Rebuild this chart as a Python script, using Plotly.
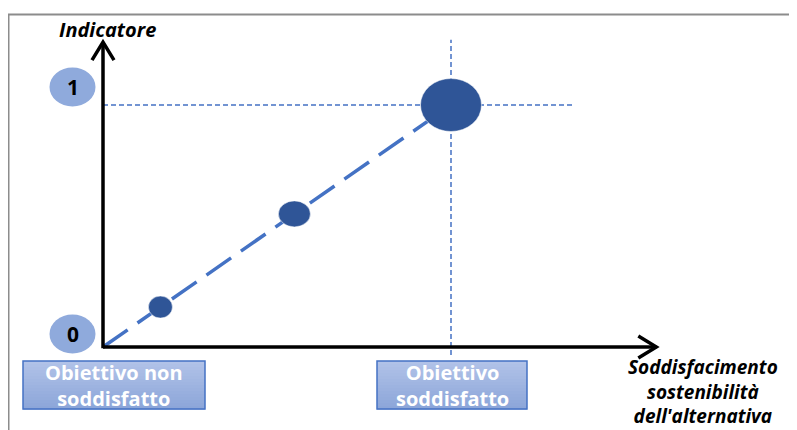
import plotly.graph_objects as go

# ---- data ----
point_x = [0.165, 0.55, 1.0]
point_y = [0.165, 0.55, 1.0]
line_x = [0.0, 1.0]
line_y = [0.0, 1.0]
tick_vals = [0, 1]
tick_text = ["0", "1"]
cat_x = [0, 1]
cat_labels = ["Obiettivo non<br>soddisfatto", "Obiettivo<br>soddisfatto"]
y_title = "Indicatore"
x_title_lines = ["Soddisfacimento", "sostenibilità", "dell'alternativa"]

# ---- style ----
W, H = 797, 430
OFF = 8                         # page body margin
X0PX, Y0PX = 103 - OFF, 347 - OFF   # pixel position of origin within figure
SX, SY = 348, 242              # pixels per unit
xr = [-X0PX / SX, (W - X0PX) / SX]
yr = [-(H - Y0PX) / SY, Y0PX / SY]
x_arrow_tip = 1.59
y_arrow_tip = 1.26
point_rx = [12, 16, 30.5]
point_ry = [11, 13, 26.5]
DARK = "#2F5597"
MID = "#4472C4"
LIGHT = "#8FAADC"
GRAD_TOP = (0xB2, 0xC3, 0xE8)
GRAD_BOT = (0x8B, 0xA5, 0xD9)
FONT = "Open Sans"

fig = go.Figure()

# dashed trend line
fig.add_trace(go.Scatter(x=line_x, y=line_y, mode="lines",
                         line=dict(color=MID, width=3.5, dash="30px,12px"),
                         hoverinfo="skip", showlegend=False))

shapes = []
# guide lines through the target point
shapes.append(dict(type="line", xref="x", yref="y", x0=0, x1=1.356, y0=point_y[-1], y1=point_y[-1],
                   line=dict(color=MID, width=1.5, dash="5px,3px"), layer="below"))
shapes.append(dict(type="line", xref="x", yref="y", x0=point_x[-1], x1=point_x[-1], y0=-0.033, y1=1.27,
                   line=dict(color=MID, width=1.5, dash="5px,3px"), layer="below"))

# points as ellipses
for px_, py_, rx, ry in zip(point_x, point_y, point_rx, point_ry):
    shapes.append(dict(type="circle", xref="x", yref="y", xsizemode="pixel", ysizemode="pixel",
                       xanchor=px_, yanchor=py_, x0=-rx, x1=rx, y0=-ry, y1=ry,
                       fillcolor=DARK, line=dict(color="white", width=0.5)))

# axes with open arrowheads
shapes.append(dict(type="line", xref="x", yref="y", x0=0, x1=x_arrow_tip, y0=0, y1=0,
                   line=dict(color="black", width=3.5)))
shapes.append(dict(type="line", xref="x", yref="y", x0=0, x1=0, y0=-0.005, y1=y_arrow_tip,
                   line=dict(color="black", width=3.5)))
shapes.append(dict(type="path", xref="x", yref="y", xsizemode="pixel", ysizemode="pixel",
                   xanchor=x_arrow_tip, yanchor=0, path="M -18 11 L 0 0 L -18 -11",
                   line=dict(color="black", width=3.5)))
shapes.append(dict(type="path", xref="x", yref="y", xsizemode="pixel", ysizemode="pixel",
                   xanchor=0, yanchor=y_arrow_tip, path="M -11 -18 L 0 0 L 11 -18",
                   line=dict(color="black", width=3.5)))

# tick-value ellipses
tick_dy = [13, 18]
for v, dy in zip(tick_vals, tick_dy):
    shapes.append(dict(type="circle", xref="x", yref="y", xsizemode="pixel", ysizemode="pixel",
                       xanchor=0, yanchor=v, x0=-53.5, x1=-7.5, y0=dy - 19.5, y1=dy + 19.5,
                       fillcolor=LIGHT, line=dict(width=0), layer="below"))

# category boxes with vertical gradient
box_dx = [[-80, 102], [-74, 76]]
BOX_TOP, BOX_BOT = -14, -62
NSTRIP = 16
for cx, (a, b) in zip(cat_x, box_dx):
    h = (BOX_TOP - BOX_BOT) / NSTRIP
    for k in range(NSTRIP):
        f = (k + 0.5) / NSTRIP
        col = "rgb(%d,%d,%d)" % tuple(round(t + (bb - t) * f) for t, bb in zip(GRAD_TOP, GRAD_BOT))
        shapes.append(dict(type="rect", xref="x", yref="y", xsizemode="pixel", ysizemode="pixel",
                           xanchor=cx, yanchor=0, x0=a, x1=b,
                           y0=BOX_TOP - k * h, y1=BOX_TOP - (k + 1) * h - 0.6,
                           fillcolor=col, line=dict(width=0), layer="below"))
    shapes.append(dict(type="rect", xref="x", yref="y", xsizemode="pixel", ysizemode="pixel",
                       xanchor=cx, yanchor=0, x0=a, x1=b, y0=BOX_TOP, y1=BOX_BOT,
                       fillcolor="rgba(0,0,0,0)", line=dict(color=MID, width=1.5)))

# gray frame
shapes.append(dict(type="path", xref="paper", yref="paper",
                   path=f"M {(8.5 - OFF)/W} -0.01 L {(8.5 - OFF)/W} {1-(14.5 - OFF)/H} L 1.01 {1-(14.5 - OFF)/H}",
                   line=dict(color="#8C8C8C", width=2)))

annotations = []
for v, dy, t in zip(tick_vals, tick_dy, tick_text):
    annotations.append(dict(x=0, y=v, xref="x", yref="y", text=f"<b>{t}</b>", showarrow=False,
                            xanchor="center", yanchor="middle",
                            xshift=-30.5, yshift=dy, font=dict(family=FONT, size=21, color="black")))
box_cx = [11, 1]
for cx, lab, s in zip(cat_x, cat_labels, box_cx):
    annotations.append(dict(x=cx, y=0, xref="x", yref="y", text=f"<b>{lab}</b>", showarrow=False,
                            xanchor="center", yanchor="middle",
                            xshift=s, yshift=-38, font=dict(family=FONT, size=20, color="white")))
annotations.append(dict(x=(107 - OFF) / W, y=1 - (30 - OFF) / H, xref="paper", yref="paper",
                        xanchor="center", yanchor="middle",
                        text=f"<b><i>{y_title}</i></b>", showarrow=False,
                        font=dict(family=FONT, size=20, color="black")))
annotations.append(dict(x=(703 - OFF) / W, y=1 - (391 - OFF) / H, xref="paper", yref="paper",
                        xanchor="center", yanchor="middle", align="center",
                        text="<br>".join(f"<b><i>{ln}</i></b>" for ln in x_title_lines),
                        showarrow=False,
                        font=dict(family=FONT, size=19, color="black")))

fig.update_layout(
    width=W, height=H, margin=dict(l=0, r=0, t=0, b=0),
    paper_bgcolor="white", plot_bgcolor="white",
    xaxis=dict(range=xr, visible=False, fixedrange=True),
    yaxis=dict(range=yr, visible=False, fixedrange=True),
    shapes=shapes, annotations=annotations, showlegend=False,
)

fig.write_html("out.html")
